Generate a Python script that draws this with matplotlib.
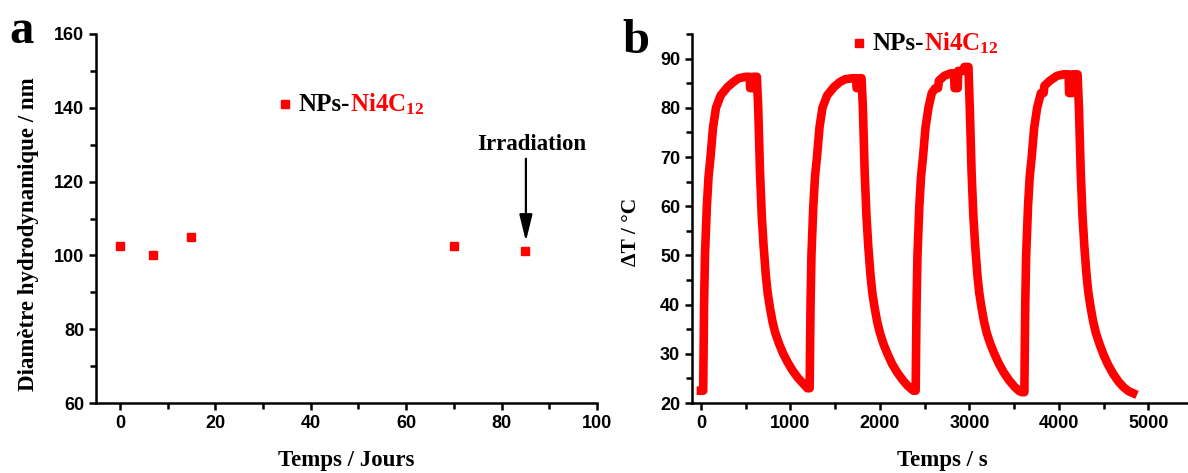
import matplotlib
matplotlib.use("Agg")
import matplotlib.pyplot as plt
from matplotlib.lines import Line2D
from matplotlib.offsetbox import TextArea, DrawingArea, HPacker, AnnotationBbox
from matplotlib.ticker import MultipleLocator

plt.rcParams['mathtext.fontset'] = 'custom'
plt.rcParams['mathtext.rm'] = 'Liberation Serif:bold'
plt.rcParams['mathtext.bf'] = 'Liberation Serif:bold'
plt.rcParams['mathtext.it'] = 'Liberation Serif:bold'

# panel a: hydrodynamic diameter vs storage time
days = [0, 7, 15, 70, 85]
diameter = [102.6, 100.0, 105.0, 102.5, 101.3]

# panel b: heating / cooling cycles
time_s = [0, 25, 35, 45, 66, 85, 107, 135, 168, 220, 296, 360, 421, 500, 545, 550, 578, 582, 625,
          640, 660, 680, 700, 725, 745, 770, 800, 830, 870, 915, 965, 1020, 1080, 1140, 1190,
          1215, 1225, 1235, 1256, 1275, 1297, 1325, 1358, 1410, 1486, 1550, 1611, 1690, 1735, 1740, 1765, 1770, 1795,
          1810, 1830, 1850, 1870, 1895, 1915, 1940, 1970, 2000, 2040, 2085, 2135, 2190, 2250, 2310, 2375,
          2400, 2410, 2420, 2441, 2460, 2482, 2510, 2543, 2580, 2620, 2650, 2660, 2720, 2790, 2830, 2835, 2870, 2875,
          2930, 2945, 2990,
          3005, 3025, 3045, 3065, 3090, 3110, 3135, 3165, 3195, 3235, 3280, 3330, 3385, 3445, 3505, 3560, 3590,
          3615, 3625, 3635, 3656, 3675, 3697, 3725, 3758, 3800, 3830, 3840, 3900, 3980, 4050, 4110, 4115, 4150, 4155,
          4210,
          4225, 4245, 4265, 4285, 4310, 4330, 4355, 4385, 4415, 4455, 4500, 4550, 4605, 4665, 4725, 4780, 4830]
delta_t = [22.5, 22.5, 40, 50, 60, 66, 70, 76, 80, 82.5, 84.2, 85.2, 86, 86.3, 86.3, 84, 84, 86.3, 86.3,
           80, 67, 58, 52, 46, 42.5, 39.5, 36.5, 34.3, 32.2, 30.2, 28.4, 26.7, 25.2, 24, 23,
           23, 40, 50, 60, 66, 70, 76, 80, 82.5, 84.2, 85.2, 85.8, 86, 86, 84, 84, 86, 86,
           80, 67, 58, 52, 46, 42.5, 39.5, 36.5, 34.3, 32, 30, 28, 26.3, 24.8, 23.5, 22.5,
           22.5, 40, 50, 60, 66, 70, 76, 80, 83, 84, 84, 85.5, 86.5, 87, 87, 84, 84, 87.5,
           87.5, 88.3, 88.3,
           80, 67, 58, 52, 46, 42.5, 39.5, 36.5, 34.2, 32, 30, 28, 26.2, 24.6, 23.3, 22.4, 22.2,
           22.2, 40, 50, 60, 66, 70, 76, 80, 83, 83, 84.5, 85.5, 86.5, 86.8, 86.8, 83, 83, 86.8,
           86.8,
           80, 67, 58, 52, 46, 42.5, 39.5, 36.5, 34.2, 32, 29.8, 27.8, 26, 24.4, 23.2, 22.4, 22]

RED = '#ff0000'
serif = dict(family='Liberation Serif', weight='bold')
sans = dict(family='Liberation Sans', weight='bold', size=13)

W, H = 1188, 473
fig = plt.figure(figsize=(W / 100, H / 100), dpi=100)

def px_axes(left, right, top, bottom):
    return fig.add_axes([left / W, 1 - bottom / H, (right - left) / W, (bottom - top) / H])

def style(ax):
    for s in ['top', 'right']:
        ax.spines[s].set_visible(False)
    for s in ['left', 'bottom']:
        ax.spines[s].set_linewidth(1.8)
    ax.tick_params(which='major', direction='out', length=5, width=1.8)
    ax.tick_params(which='minor', direction='out', length=4.5, width=1.8)
    for lab in ax.get_xticklabels() + ax.get_yticklabels():
        lab.set_fontproperties(sans)

def legend_box(fig_xy):
    da = DrawingArea(8, 12, 0, 0)
    da.add_artist(Line2D([4], [6], marker='s', ms=5.5, color=RED, ls=''))
    t1 = TextArea('NPs-', textprops=dict(color='black', size=18, **serif))
    t2 = TextArea('Ni4C$_{12}$', textprops=dict(color=RED, size=18, **serif))
    words = HPacker(children=[t1, t2], align='baseline', pad=0, sep=0)
    box = HPacker(children=[da, words], align='center', pad=0, sep=6)
    ab = AnnotationBbox(box, fig_xy, xycoords='figure pixels', box_alignment=(0, 0.5),
                        frameon=False, pad=0)
    fig.add_artist(ab)

# ---- panel a
ax1 = px_axes(96, 597, 34, 403)
ax1.plot(days, diameter, 's', color=RED, ms=5.8, mec=RED)
ax1.set_xlim(-5, 100)
ax1.set_ylim(60, 160)
ax1.xaxis.set_major_locator(MultipleLocator(20))
ax1.xaxis.set_minor_locator(MultipleLocator(10))
ax1.yaxis.set_major_locator(MultipleLocator(20))
ax1.yaxis.set_minor_locator(MultipleLocator(10))
style(ax1)
ax1.set_xlabel('Temps / Jours', fontsize=16.5, **serif)
ax1.xaxis.set_label_coords(0.5, -0.127)
ax1.set_ylabel('Diamètre hydrodynamique / nm', fontsize=16.5, **serif)
ax1.yaxis.set_label_coords(-0.114, 0.458)
ax1.text(86.4, 130, 'Irradiation', ha='center', va='center', fontsize=16.5, **serif)
ax1.annotate('', xy=(85.1, 103.8), xytext=(85.1, 126.2),
             arrowprops=dict(arrowstyle='-|>,head_length=0.9,head_width=0.22', color='black',
                             lw=1.6, shrinkA=0, shrinkB=0, mutation_scale=18))
fig.text(9 / W, 1 - 43 / H, 'a', ha='left', va='baseline', fontsize=35, **serif)
legend_box((279, H - 104))

# ---- panel b
ax2 = px_axes(692, 1193, 34, 403)
ax2.plot(time_s, delta_t, '-', color=RED, lw=6.2, solid_joinstyle='round')
ax2.set_xlim(-100, 5500)
ax2.set_ylim(20, 95)
ax2.xaxis.set_major_locator(MultipleLocator(1000))
ax2.xaxis.set_minor_locator(MultipleLocator(500))
ax2.yaxis.set_major_locator(MultipleLocator(10))
ax2.yaxis.set_minor_locator(MultipleLocator(5))
ax2.set_xticks([0, 1000, 2000, 3000, 4000, 5000])
style(ax2)
ax2.set_xlabel('Temps / s', fontsize=16.5, **serif)
ax2.xaxis.set_label_coords(0.5, -0.127)
ax2.set_ylabel('ΔT / °C', fontsize=15.5, **serif)
ax2.yaxis.set_label_coords(-0.102, 0.465)
fig.text(622 / W, 1 - 53 / H, 'b', ha='left', va='baseline', fontsize=35, **serif)
legend_box((853, H - 43))

fig.savefig('out.png', dpi=100)
